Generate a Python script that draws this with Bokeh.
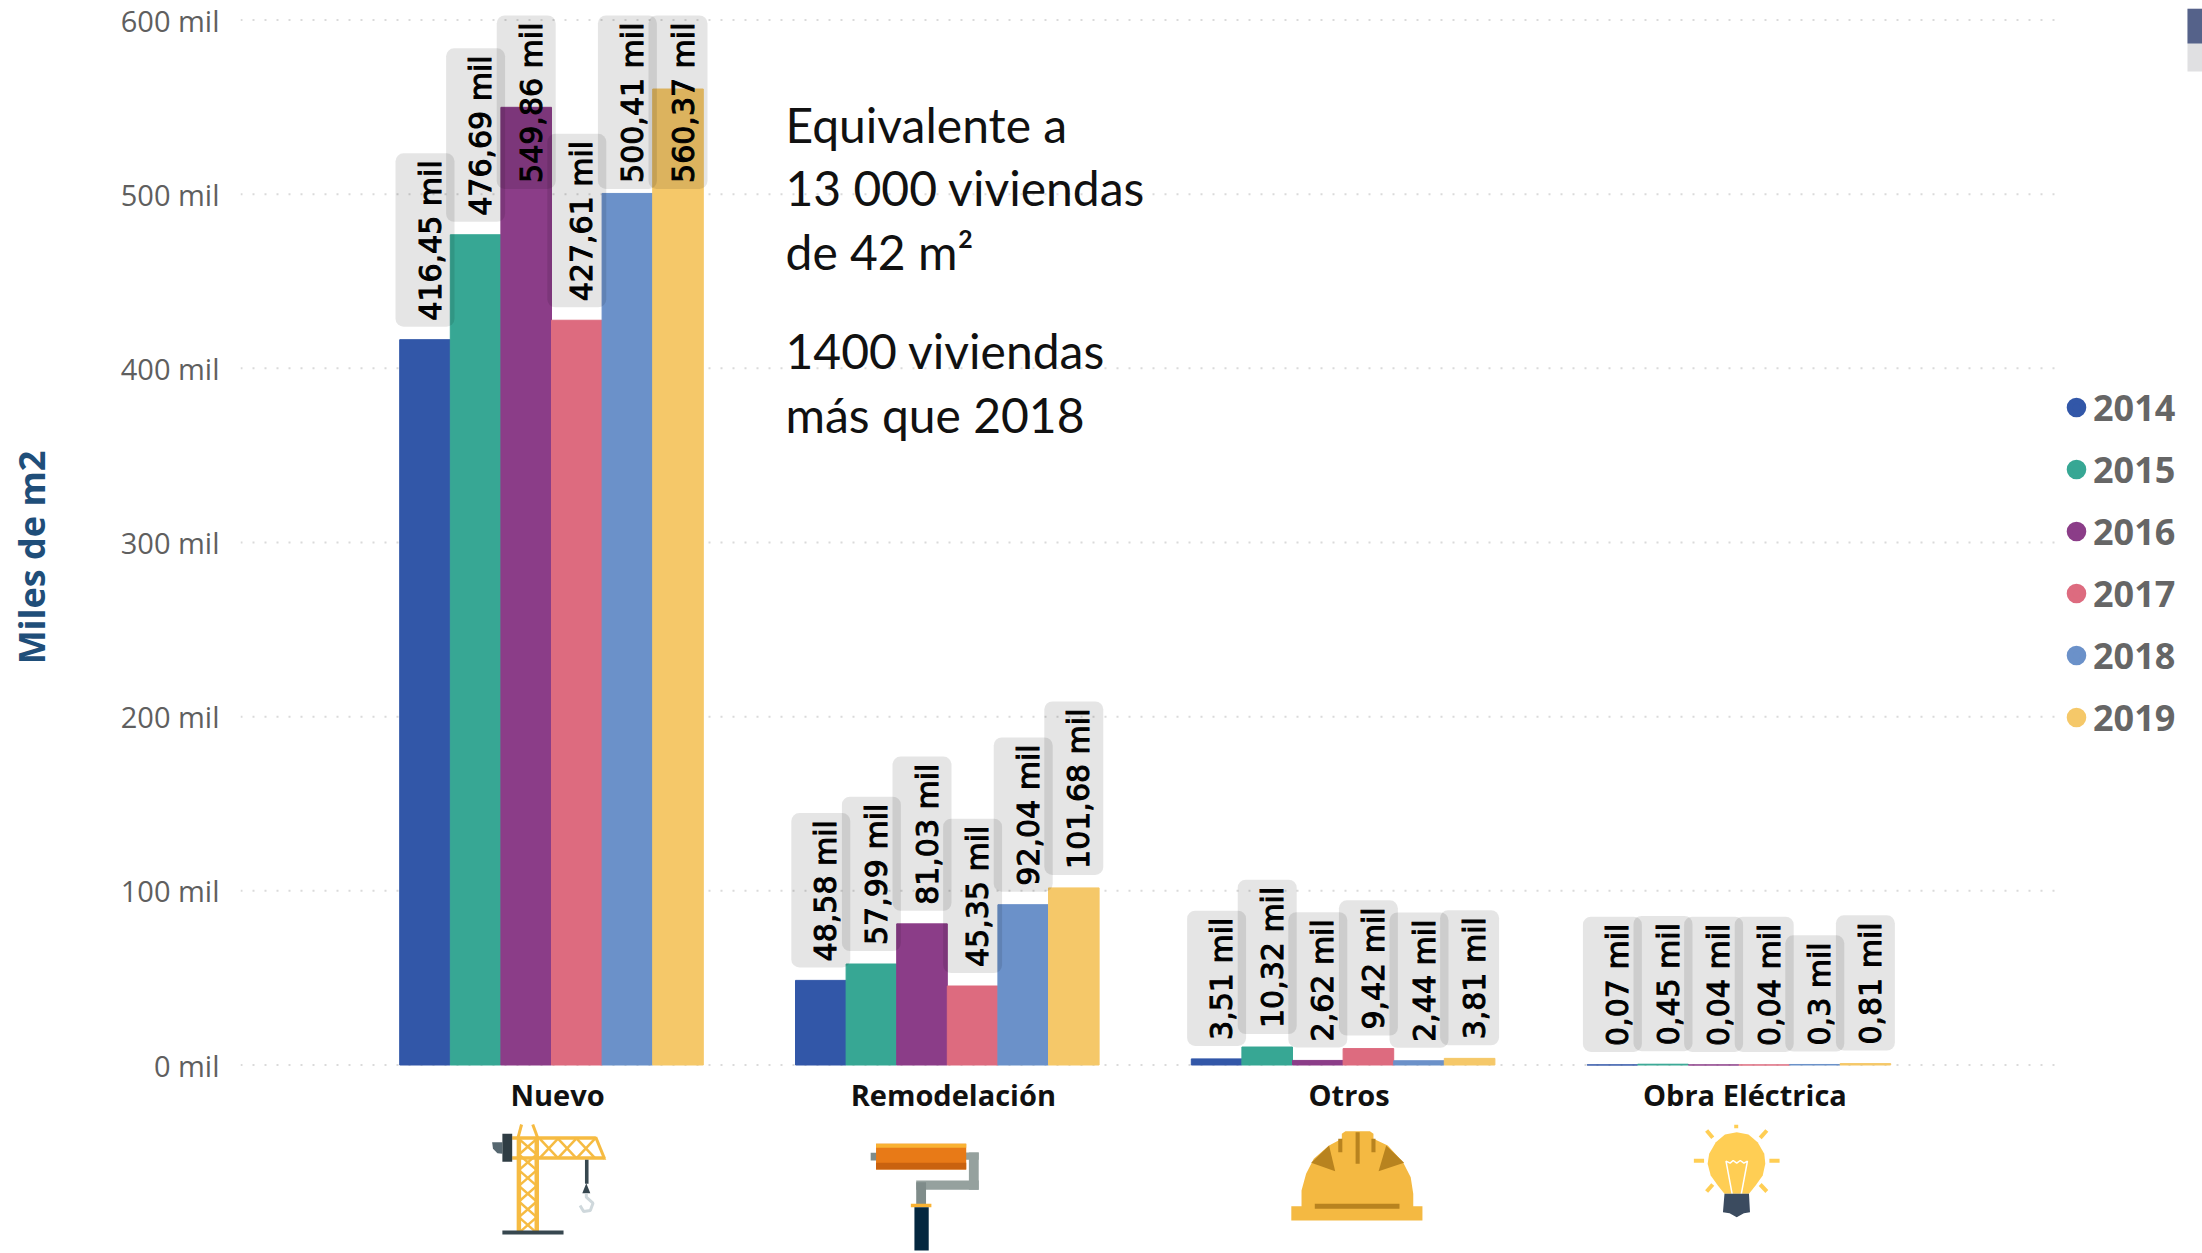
import math
from bokeh.embed import file_html
from bokeh.layouts import column
from bokeh.models import FixedTicker, Legend, LegendItem, Range1d
from bokeh.plotting import figure
from bokeh.resources import INLINE
from bokeh.core.properties import value

categories = ["Nuevo", "Remodelación", "Otros", "Obra Eléctrica"]
years = ["2014", "2015", "2016", "2017", "2018", "2019"]
v2014 = [416.45, 48.58, 3.51, 0.07]
v2015 = [476.69, 57.99, 10.32, 0.45]
v2016 = [549.86, 81.03, 2.62, 0.04]
v2017 = [427.61, 45.35, 9.42, 0.04]
v2018 = [500.41, 92.04, 2.44, 0.30]
v2019 = [560.37, 101.68, 3.81, 0.81]
series = [v2014, v2015, v2016, v2017, v2018, v2019]
colors = ["#3257A8", "#37A794", "#8B3D88", "#DD6B7F", "#6B91C9", "#F5C869"]
y_ticks = [0, 100, 200, 300, 400, 500, 600]

FONT = "Open Sans"
PX_PER_UNIT = 1045 / 600          # page pixels per thousand m2
CAT_STEP = 395.8                  # page pixels between categories
BAR_W = 50.6 / CAT_STEP
SHIFT = -6 / CAT_STEP
Y0 = 1064.5                       # page y of value 0
GAP = 13 / PX_PER_UNIT            # bar top to label box
CLAMP = (Y0 - 15) / PX_PER_UNIT   # labels cannot rise above this
BOX_H = 174 / PX_PER_UNIT


def fmt(v):
    s = f"{v:.2f}".replace(".", ",")
    if s.endswith("0"):
        s = s[:-1]
    return s + " mil"


F_L, F_R, F_T, F_B = 240, 2202, 8, 1106
GRID_END = 2055
p = figure(width=2202, height=1120, output_backend="svg", toolbar_location=None,
           x_range=Range1d((F_L - 557) / CAT_STEP, (F_R - 557) / CAT_STEP),
           y_range=Range1d((Y0 - F_B) / PX_PER_UNIT, (Y0 - F_T) / PX_PER_UNIT),
           min_border_left=F_L, min_border_right=0,
           min_border_top=F_T, min_border_bottom=1120 - F_B)
p.extra_x_ranges["px"] = Range1d(F_L, F_R)
p.extra_y_ranges["py"] = Range1d(F_B, F_T)
p.outline_line_color = None
p.background_fill_color = "white"
p.grid.visible = False

p.segment(x0=[F_L] * len(y_ticks), x1=[GRID_END] * len(y_ticks), y0=y_ticks, y1=y_ticks, x_range_name="px",
          line_color="#DADADA", line_width=2, line_dash="2 10", level="underlay")

p.yaxis.ticker = FixedTicker(ticks=y_ticks)
p.yaxis.major_label_overrides = {t: f"{t} mil" for t in y_ticks}
p.yaxis.major_label_text_font = FONT
p.yaxis.major_label_text_font_size = "29px"
p.yaxis.major_label_text_color = "#5F5F5F"
p.yaxis.axis_line_color = None
p.yaxis.major_tick_line_color = None
p.yaxis.minor_tick_line_color = None
p.yaxis.major_label_standoff = 15
p.yaxis.axis_label = "Miles de m2"
p.yaxis.axis_label_text_font = FONT
p.yaxis.axis_label_text_font_style = "bold"
p.yaxis.axis_label_text_font_size = "36px"
p.yaxis.axis_label_text_color = "#1F4E79"
p.yaxis.axis_label_standoff = 62

p.xaxis.ticker = FixedTicker(ticks=list(range(len(categories))))
p.xaxis.major_label_overrides = {i: c for i, c in enumerate(categories)}
p.xaxis.major_label_text_font = FONT
p.xaxis.major_label_text_font_style = "bold"
p.xaxis.major_label_text_font_size = "29px"
p.xaxis.major_label_text_color = "#111111"
p.xaxis.axis_line_color = None
p.xaxis.major_tick_line_color = None
p.xaxis.minor_tick_line_color = None
p.xaxis.major_label_standoff = -38

# bars
for j, (vals, col) in enumerate(zip(series, colors)):
    xs = [i + SHIFT + (j - 2.5) * BAR_W for i in range(len(categories))]
    p.vbar(x=xs, top=vals, bottom=0, width=BAR_W, fill_color=col, line_color=col, line_width=1)

# data labels
for j, vals in enumerate(series):
    xs = [i + SHIFT + (j - 2.5) * BAR_W for i in range(len(categories))]
    texts = [fmt(v) for v in vals]
    normal = [k for k, v in enumerate(vals) if v + GAP + BOX_H <= CLAMP]
    clamped = [k for k, v in enumerate(vals) if v + GAP + BOX_H > CLAMP]
    common = dict(angle=math.pi / 2, text_baseline="middle", text_font=value("DejaVu Sans"),
                  text_font_size="30px", text_color="#000000", text_outline_color="#000000",
                  padding=[6, 7, 17, 7],
                  background_fill_color="#000000", background_fill_alpha=0.1, border_radius=8)
    p.text(x=[xs[k] for k in normal], y=[vals[k] + GAP for k in normal],
           text=[texts[k] for k in normal], text_align="left", **common)
    if clamped:
        p.text(x=[xs[k] for k in clamped], y=[CLAMP] * len(clamped),
               text=[texts[k] for k in clamped], text_align="right", **common)

# note
note_lines = [("Equivalente a", 124), ("13 000 viviendas", 187), ("de 42 m²", 251),
              ("1400 viviendas", 350), ("más que 2018", 414)]
for txt, y in note_lines:
    p.text(x=[785], y=[y], text=[txt], x_range_name="px", y_range_name="py",
           text_baseline="middle", text_font=value("Lato"), text_font_size="48px", text_color="#111111")

# stray fragment in the picture's upper right corner
p.quad(left=[2187], right=[2202], top=[8], bottom=[71], x_range_name="px", y_range_name="py",
       fill_color="#E0E0E2", line_color=None)
p.quad(left=[2187], right=[2202], top=[8], bottom=[43], x_range_name="px", y_range_name="py",
       fill_color="#55628A", line_color=None)

# legend
legend_items = []
for y, col in zip(years, colors):
    r = p.scatter(x=[float("nan")], y=[float("nan")], marker="circle", size=20, fill_color=col, line_color=col,
                  line_width=6)
    legend_items.append(LegendItem(label=y, renderers=[r]))
legend = Legend(items=legend_items, location=(1819, 363), orientation="vertical",
                background_fill_alpha=0, border_line_color=None, glyph_width=34, glyph_height=52,
                label_text_font=FONT, label_text_font_style="bold", label_text_font_size="36px",
                label_text_color="#666666", spacing=10, margin=0, padding=0, label_standoff=0,
                label_height=52)
p.add_layout(legend, "center")

# icons, page pixel coordinates
q = figure(width=2202, height=133, output_backend="svg", toolbar_location=None,
           x_range=Range1d(F_L, F_R), y_range=Range1d(1253, 1120),
           min_border_left=F_L, min_border_right=0, min_border_top=0, min_border_bottom=0)
q.axis.visible = False
q.grid.visible = False
q.outline_line_color = None


def Z2(pts):
    return [380 + a / 2.24 for a, b in pts], [1030 + b / 3 for a, b in pts]


def Z3(pts):
    return [1150 + a / 1.96 for a, b in pts], [1030 + b / 3 for a, b in pts]


def poly(f, pts, col):
    xs, ys = f(pts)
    q.patch(xs, ys, fill_color=col, line_color=None)


def rect(f, x0, y0, x1, y1, col):
    poly(f, [(x0, y0), (x1, y0), (x1, y1), (x0, y1)], col)


def seg(f, pts, col, w):
    xs, ys = f(pts)
    q.line(xs, ys, line_color=col, line_width=w)


# crane
YEL = "#F6BB42"
DK = "#37474F"
rect(Z2, 305, 320, 315, 602, YEL)
rect(Z2, 345, 320, 355, 602, YEL)
seg(Z2, [(308, 322), (316, 282)], YEL, 3)
seg(Z2, [(352, 322), (341, 282)], YEL, 3)
for y0 in range(325, 595, 47):
    seg(Z2, [(310, y0), (350, y0 + 47)], YEL, 2.5)
    seg(Z2, [(350, y0), (310, y0 + 47)], YEL, 2.5)
poly(Z2, [(295, 317), (482, 317), (486, 328), (295, 328)], YEL)
poly(Z2, [(295, 377), (500, 377), (506, 388), (295, 388)], YEL)
seg(Z2, [(482, 320), (502, 385)], YEL, 3)
for x0 in (357, 398, 440):
    seg(Z2, [(x0, 325), (x0 + 40, 382)], YEL, 2.5)
    seg(Z2, [(x0 + 40, 325), (x0, 382)], YEL, 2.5)
poly(Z2, [(250, 335), (273, 335), (273, 370), (262, 368), (252, 355)], "#566770")
rect(Z2, 273, 310, 295, 394, "#2F3D44")
rect(Z2, 458, 388, 466, 460, DK)
poly(Z2, [(461, 458), (452, 488), (470, 488)], DK)
seg(Z2, [(461, 490), (461, 500), (476, 518), (470, 540), (455, 543), (447, 525)], "#CFD8DC", 3)
rect(Z2, 273, 600, 410, 612, DK)

# roller
rect(Z2, 1098, 367, 1115, 390, "#7F8C8A")
rect(Z2, 1300, 366, 1340, 388, "#95A19E")
rect(Z2, 1318, 366, 1340, 478, "#95A19E")
rect(Z2, 1200, 450, 1340, 478, "#95A19E")
rect(Z2, 1200, 455, 1222, 522, "#7F8C8A")
rect(Z2, 1110, 340, 1312, 417, "#E87A17")
rect(Z2, 1110, 340, 1312, 352, "#F9B233")
rect(Z2, 1110, 397, 1312, 417, "#C9620F")
rect(Z2, 1188, 520, 1234, 530, "#F9B233")
rect(Z2, 1196, 530, 1228, 660, "#04273F")

# helmet
HY = "#F4B942"
HD = "#B8831F"
poly(Z3, [(276, 570), (276, 527), (296, 527), (296, 480), (305, 430), (320, 385), (350, 345), (375, 325), (375, 310),
          (382, 302), (430, 302), (437, 310), (437, 325), (465, 345), (495, 395), (510, 440), (515, 490), (515, 527),
          (533, 527), (533, 570)], HY)
poly(Z3, [(350, 345), (315, 397), (362, 422)], HD)
poly(Z3, [(462, 345), (497, 397), (447, 422)], HD)
rect(Z3, 402, 305, 410, 400, HD)
rect(Z3, 368, 325, 376, 365, HD)
rect(Z3, 433, 325, 441, 365, HD)
rect(Z3, 322, 520, 488, 535, HD)

# bulb
BY = "#FFCE54"
poly(Z3, [(1149, 305), (1172, 312), (1190, 335), (1203, 370), (1205, 400), (1200, 435), (1186, 465), (1173, 490),
          (1125, 490), (1112, 465), (1098, 435), (1092, 400), (1095, 370), (1108, 335), (1126, 312)], BY)
seg(Z3, [(1140, 490), (1128, 392), (1136, 398), (1142, 390), (1149, 398), (1156, 390), (1163, 398), (1170, 392), (1158, 490)],
    "#FFFFFF", 1.5)
poly(Z3, [(1125, 490), (1173, 490), (1175, 545), (1163, 548), (1149, 560), (1135, 548), (1122, 545)], "#3B4B5F")
for a, b in [((1148, 283), (1148, 293)), ((1090, 300), (1102, 322)), ((1208, 300), (1195, 322)),
             ((1065, 391), (1085, 391)), ((1213, 391), (1233, 391)), ((1090, 483), (1102, 462)),
             ((1208, 483), (1195, 462))]:
    seg(Z3, [a, b], BY, 4)

open("out.html", "w").write(file_html(column(p, q, spacing=0), INLINE))
